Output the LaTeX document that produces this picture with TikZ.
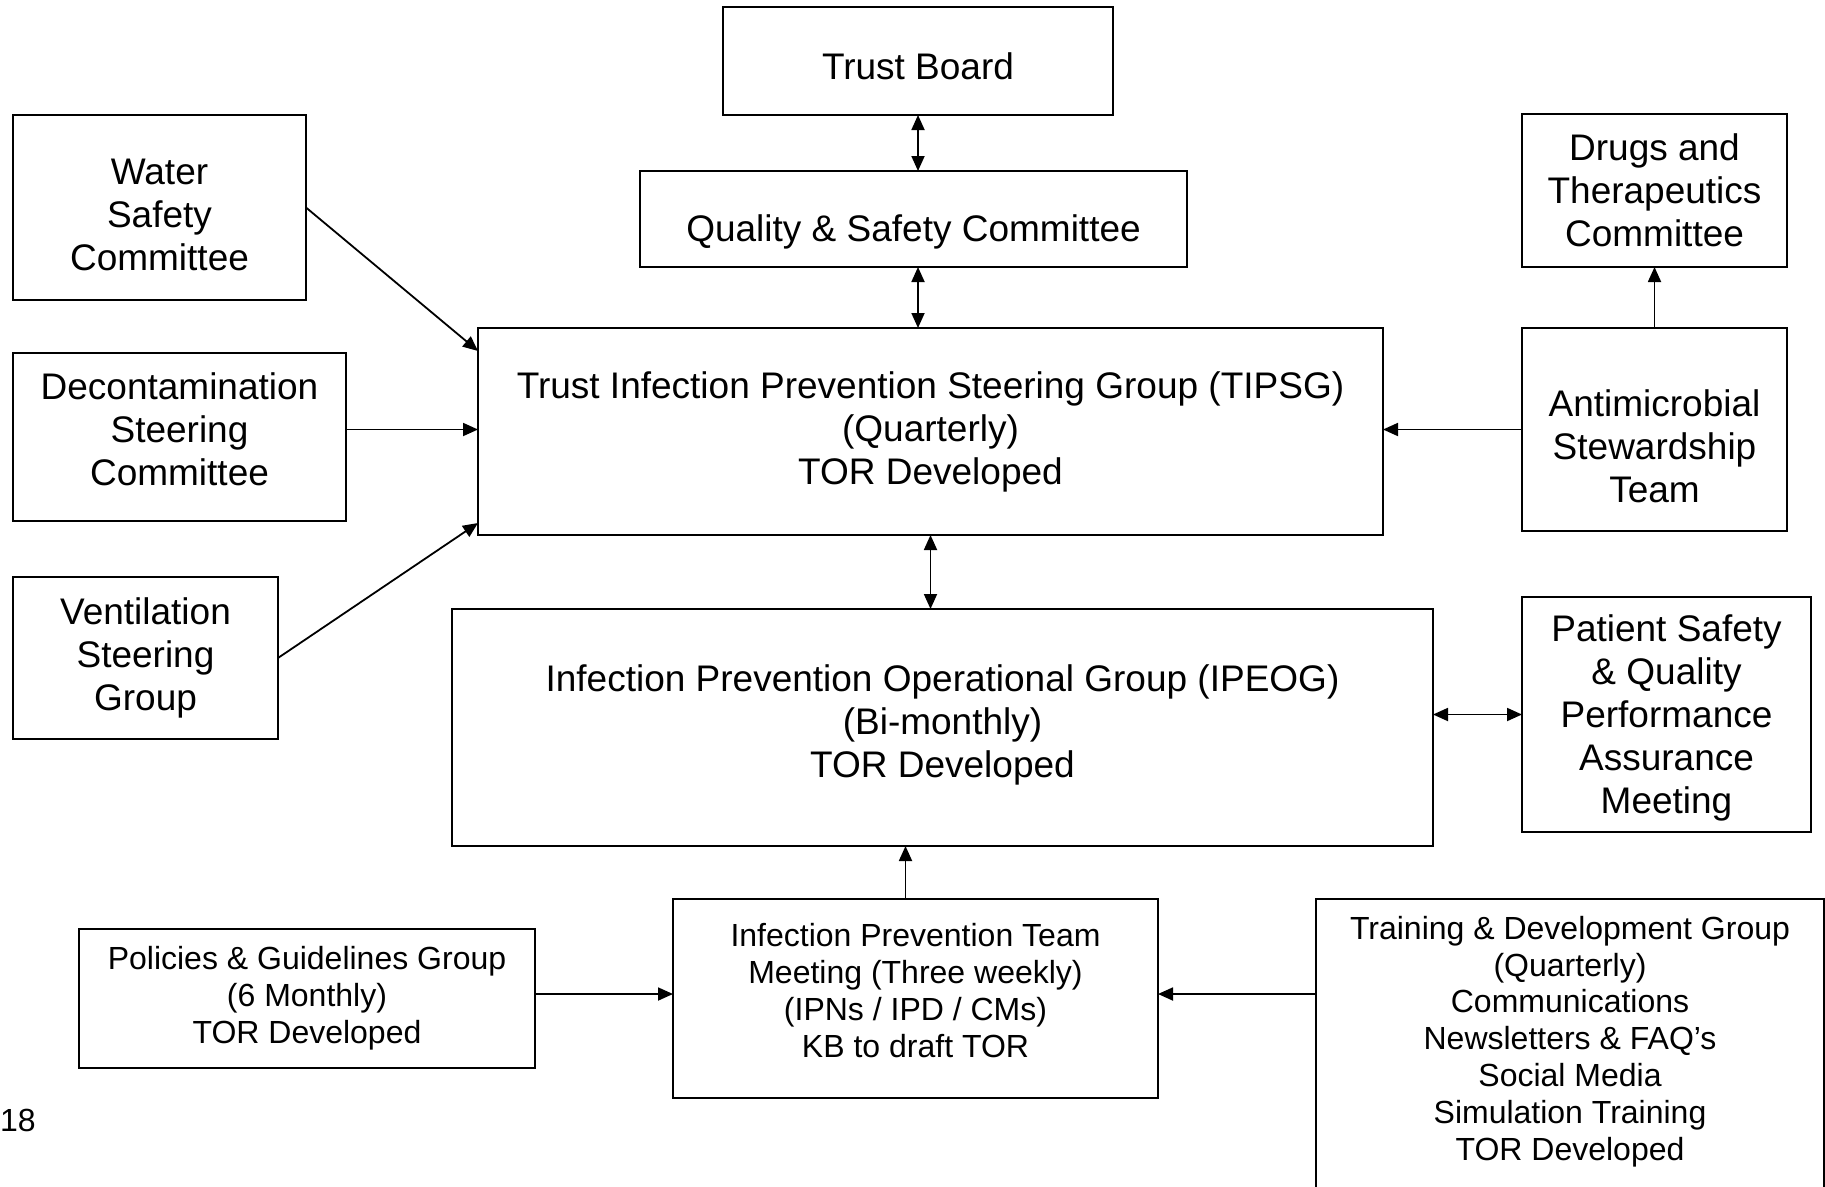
\documentclass[tikz,border=0pt]{standalone}
\usepackage{fontspec}
\setmainfont{Liberation Sans}
\usetikzlibrary{arrows.meta,calc}
\begin{document}
\begin{tikzpicture}[x=1pt,y=-1pt,
  box/.style={draw, line width=1.8pt, rectangle, inner sep=0pt, outer sep=0pt, align=center, font=\fontsize{37pt}{43pt}\selectfont},
  sbox/.style={box, font=\fontsize{32pt}{36.8pt}\selectfont},
  arr/.style={line width=1.8pt, -{Triangle[length=15pt,width=13pt]}},
  darr/.style={line width=1.8pt, {Triangle[length=15pt,width=13pt]}-{Triangle[length=15pt,width=13pt]}}]
\useasboundingbox (0,0) rectangle (1825,1186);
\clip (0,0) rectangle (1825,1186);

\node[box, minimum width=390pt, minimum height=108pt] (tb) at (918,61) {\rule{0pt}{37pt}Trust Board};
\node[box, minimum width=547pt, minimum height=96pt] (qs) at (913.5,219) {\rule{0pt}{53pt}Quality \& Safety Committee};
\node[box, minimum width=293pt, minimum height=185pt] (water) at (159.5,207.5) {\rule{0pt}{41pt}Water\\Safety\\Committee};
\node[box, minimum width=333pt, minimum height=168pt] (decon) at (179.5,437) {Decontamination\\Steering\\Committee\rule[-16pt]{0pt}{16pt}};
\node[box, minimum width=265pt, minimum height=162pt] (vent) at (145.5,658) {Ventilation\\Steering\\Group};
\node[box, minimum width=905pt, minimum height=207pt] (tipsg) at (930.5,431.5) {Trust Infection Prevention Steering Group (TIPSG)\\(Quarterly)\\TOR Developed};
\node[box, minimum width=265pt, minimum height=153pt] (drugs) at (1654.5,190.5) {Drugs and\\Therapeutics\\Committee};
\node[box, minimum width=265pt, minimum height=203pt] (amr) at (1654.5,429.5) {\rule{0pt}{61pt}Antimicrobial\\Stewardship\\Team};
\node[box, minimum width=981pt, minimum height=237pt] (ipeog) at (942.5,727.5) {Infection Prevention Operational Group (IPEOG)\\(Bi-monthly)\\TOR Developed\rule[-12pt]{0pt}{12pt}};
\node[box, minimum width=289pt, minimum height=235pt] (pat) at (1666.5,714.5) {\rule{0pt}{34pt}Patient Safety\\\& Quality\\Performance\\Assurance\\Meeting};
\node[sbox, minimum width=456pt, minimum height=139pt] (pol) at (307,998.5) {Policies \& Guidelines Group\\(6 Monthly)\\TOR Developed};
\node[sbox, minimum width=485pt, minimum height=199pt] (ipt) at (915.5,998.5) {Infection Prevention Team\\Meeting (Three weekly)\\(IPNs / IPD / CMs)\\KB to draft TOR\rule[-16pt]{0pt}{16pt}};
\node[sbox, minimum width=508pt, minimum height=321pt] (train) at (1570,1059.5) {Training \& Development Group\\(Quarterly)\\Communications\\Newsletters \& FAQ’s\\Social Media\\Simulation Training\\TOR Developed\rule[-43pt]{0pt}{43pt}};
\node[anchor=west, inner sep=0pt, font=\fontsize{32pt}{36.8pt}\selectfont] (pg) at (0,1120) {18};

\coordinate (iptup) at ([xshift=-10pt]ipt.north);
\coordinate (hy) at ([yshift=4.5pt]pol.east);
\draw[darr] (tb.south) -- (tb.south |- qs.north);
\draw[darr] (qs.south -| tb.south) -- (tipsg.north -| tb.south);
\draw[darr] (tipsg.south) -- (tipsg.south |- ipeog.north);
\draw[arr] (iptup) -- (iptup |- ipeog.south);
\draw[arr] (hy) -- (hy -| ipt.west);
\draw[arr] (train.west |- hy) -- (ipt.east |- hy);
\draw[darr] (ipeog.east |- pat.west) -- (pat.west);
\draw[arr] (amr.west) -- (amr.west -| tipsg.east);
\draw[arr] (amr.north) -- (drugs.south);
\draw[arr] (decon.east |- amr.west) -- (tipsg.west |- amr.west);
\draw[arr] (water.east) -- ([yshift=-23pt]tipsg.north west);
\draw[arr] (vent.east) -- ([yshift=12pt]tipsg.south west);
\end{tikzpicture}
\end{document}
